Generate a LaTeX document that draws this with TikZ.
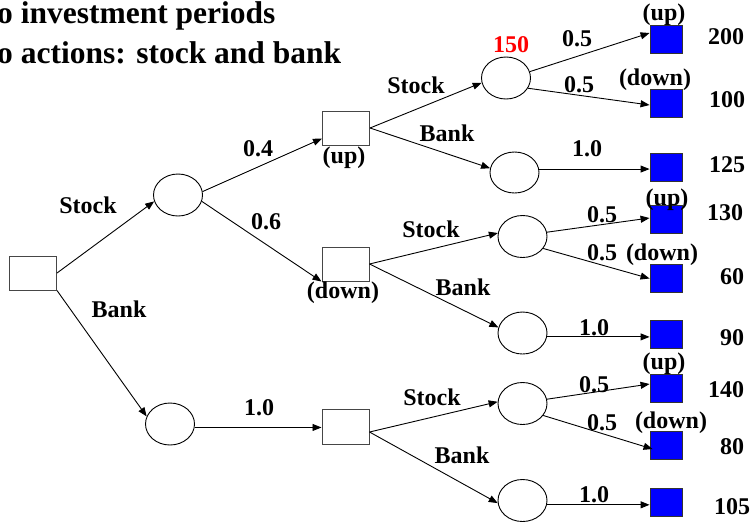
\documentclass[tikz,border=0pt]{standalone}
\usepackage{fontspec}
\setmainfont{Liberation Serif}
\usetikzlibrary{shapes.geometric,arrows.meta}
\begin{document}
\begin{tikzpicture}[x=1pt,y=-1pt,
  dec/.style={rectangle,draw={rgb,255:red,70;green,70;blue,70},line width=1pt,minimum width=47pt,minimum height=34pt,inner sep=0pt},
  chance/.style={ellipse,draw,line width=0.9pt,minimum width=49pt,minimum height=42pt,inner sep=0pt},
  term/.style={rectangle,draw=black!80,fill=blue,line width=0.9pt,minimum width=32pt,minimum height=28pt,inner sep=0pt},
  arr/.style={-{Triangle[length=9pt,width=7pt]},line width=0.9pt},
  lbl/.style={font=\fontsize{24}{28}\selectfont\bfseries,inner sep=0pt},
  ttl/.style={font=\fontsize{31.5}{36}\selectfont\bfseries,inner sep=0pt,anchor=base west}]
\useasboundingbox (0,0) rectangle (751,523);
% decision and chance nodes
\node[dec] (root) at (33,273) {};
\node[chance] (c1) at (178,195) {};
\node[chance] (cb) at (170,424) {};
\node[dec] (up) at (346,128) {};
\node[dec] (down) at (345.5,264) {};
\node[dec,minimum height=35pt] (bot) at (345.5,426.5) {};
\node[chance] (s1) at (506,78) {};
\node[chance,minimum height=41pt] (b1) at (514.5,172.5) {};
\node[chance] (s2) at (522.5,236.5) {};
\node[chance] (b2) at (522.5,333) {};
\node[chance] (s3) at (522.5,403.5) {};
\node[chance] (b3) at (522.5,500.5) {};
% terminal nodes
\node[term] (q1) at (666,39) {};
\node[term] (q2) at (666,103) {};
\node[term] (q3) at (666,167) {};
\node[term] (q4) at (666,219.5) {};
\node[term] (q5) at (666,278.5) {};
\node[term] (q6) at (666,334.5) {};
\node[term] (q7) at (666,388) {};
\node[term] (q8) at (666,445.5) {};
\node[term] (q9) at (666,502) {};
% connectors
\draw[arr] (root.east) -- (c1.195);
\draw[arr] (root.south east) -- (cb.162);
\draw[arr] (c1.8) -- ([yshift=7pt]up.south west);
\draw[arr] (c1.-15) -- (down.south west);
\draw[arr] (cb.-8) -- (cb.-8 -| bot.west);
\draw[arr] (up.east) -- (s1.191);
\draw[arr] (up.east) -- (b1.170);
\draw[arr] (down.east) -- (s2.172);
\draw[arr] (down.east) -- (b2.167);
\draw[arr] ([yshift=-5.5pt]bot.east) -- (s3.176);
\draw[arr] ([yshift=-5.5pt]bot.east) -- (b3.186);
\draw[arr] (s1.15) -- ([yshift=6pt]q1.west);
\draw[arr] (s1.-25) -- ([yshift=-2pt]q2.west);
\draw[arr] (b1.8) -- (b1.8 -| q3.west);
\draw[arr] (s2.10) -- ([yshift=1.5pt]q4.west);
\draw[arr] (s2.-30) -- (q5.west);
\draw[arr] (b2.-9) -- (b2.-9 -| q6.west);
\draw[arr] (s3.10) -- ([yshift=4pt]q7.west);
\draw[arr] (s3.-30) -- ([xshift=3pt,yshift=-3.5pt]q8.west);
\draw[arr] (b3.-10) -- (b3.-10 -| q9.west);
% title
\node[ttl] (t1) at (-3,23) {o investment periods};
\node[ttl] (t2) at (-3,63) {o actions: stock and bank};
% labels
\node[lbl] (ls0) at (88,205) {Stock};
\node[lbl] (lb0) at (119,309) {Bank};
\node[lbl] (p04) at (258,149) {0.4};
\node[lbl] (p06) at (266,222) {0.6};
\node[lbl] (lup) at (344,158) {(up)};
\node[lbl] (ldown) at (343,293) {(down)};
\node[lbl] (p10) at (259,408) {1.0};
\node[lbl] (ls1) at (416,85) {Stock};
\node[lbl] (lb1) at (447,133) {Bank};
\node[lbl] (ls2) at (431,229) {Stock};
\node[lbl] (lb2) at (463,287) {Bank};
\node[lbl] (ls3) at (432,397) {Stock};
\node[lbl] (lb3) at (462,455) {Bank};
\node[lbl,text=red] (v150) at (511,45) {150};
\node[lbl] (pa) at (577,39) {0.5};
\node[lbl] (pb) at (579,85) {0.5};
\node[lbl] (pc) at (587,149) {1.0};
\node[lbl] (pd) at (602,215) {0.5};
\node[lbl] (pe) at (602,253) {0.5};
\node[lbl] (pf) at (594,328) {1.0};
\node[lbl] (pg) at (594,385) {0.5};
\node[lbl] (ph) at (602,423) {0.5};
\node[lbl] (pi) at (594,495) {1.0};
\node[lbl] (u1) at (664,15) {(up)};
\node[lbl] (d1) at (655,80) {(down)};
\node[lbl] (u2) at (667,200) {(up)};
\node[lbl] (d2) at (662,255) {(down)};
\node[lbl] (u3) at (664,364) {(up)};
\node[lbl] (d3) at (671,423) {(down)};
\node[lbl] (v1) at (726,37) {200};
\node[lbl] (v2) at (727,100) {100};
\node[lbl] (v3) at (727,165) {125};
\node[lbl] (v4) at (725,213) {130};
\node[lbl] (v5) at (732,277) {60};
\node[lbl] (v6) at (732,338) {90};
\node[lbl] (v7) at (726,390) {140};
\node[lbl] (v8) at (732,447) {80};
\node[lbl] (v9) at (732,507) {105};
\end{tikzpicture}
\end{document}
